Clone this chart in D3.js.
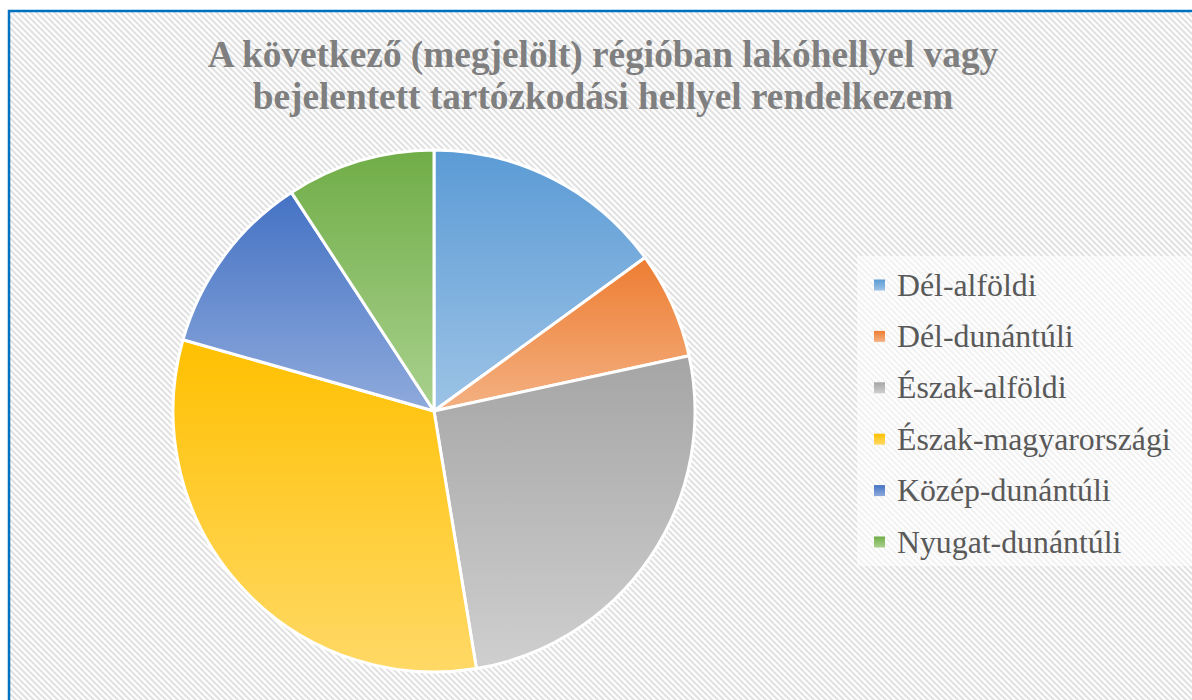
<!DOCTYPE html>
<html>
<head>
<meta charset="utf-8" />
<title>Régiók</title>
<script type="text/javascript" src="https://cdn.jsdelivr.net/npm/d3@7/dist/d3.min.js"></script>
<style>
body { margin:0; background:#fff; }
svg { display:block; }
text { font-family: "Liberation Serif", Tinos, "Times New Roman", "DejaVu Serif", serif; }
</style>
</head>
<body>
<div id="chart"></div>
<script>
// adatok
const regiok = ["Dél-alföldi","Dél-dunántúli","Észak-alföldi","Észak-magyarországi","Közép-dunántúli","Nyugat-dunántúli"];
const ertekek = [15, 6.6, 25.8, 32, 11.4, 9.2];
const cimSorok = ["A következő (megjelölt) régióban lakóhellyel vagy","bejelentett tartózkodási hellyel rendelkezem"];
const szinFelul = ["#5b9bd5","#ed7d31","#a5a5a5","#ffc000","#4472c4","#70ad47"];
const szinAlul  = ["#9dc3e6","#f4b183","#cfcfcf","#ffd966","#8faadc","#a9d18e"];

const width = 1192, height = 700;
const svg = d3.select("#chart").append("svg")
	.attr("width", width)
	.attr("height", height);

const defs = svg.append("defs");
const pat = defs.append("pattern")
	.attr("id","csikos")
	.attr("patternUnits","userSpaceOnUse")
	.attr("width",6).attr("height",6);
pat.append("rect").attr("width",6).attr("height",6).attr("fill","#fff");
pat.append("path")
	.attr("d","M-1,-1 L7,7 M-1,5 L1,7 M5,-1 L7,1")
	.attr("stroke","#e2e2e2")
	.attr("stroke-width",2.2);

regiok.forEach(function(r,i){
	const g = defs.append("linearGradient")
		.attr("id","grad"+i)
		.attr("x1",0).attr("y1",0).attr("x2",0).attr("y2",1);
	g.append("stop").attr("offset","0%").attr("stop-color",szinFelul[i]);
	g.append("stop").attr("offset","100%").attr("stop-color",szinAlul[i]);
});

// hatter + keret
svg.append("rect")
	.attr("x",9).attr("y",11)
	.attr("width",width+20).attr("height",height+20)
	.attr("fill","url(#csikos)")
	.attr("stroke","#0070c0")
	.attr("stroke-width",2.5);

// cim
svg.append("g").selectAll("text")
	.data(cimSorok)
	.join("text")
	.attr("x",603)
	.attr("y",(d,i)=>67 + i*42)
	.attr("text-anchor","middle")
	.attr("font-weight","bold")
	.attr("font-size",37.3)
	.attr("fill","#7f7f7f")
	.text(d=>d);

// kordiagram
const cx = 434, cy = 411, r = 261;
const pie = d3.pie().sort(null).value(d=>d);
const arc = d3.arc().innerRadius(0).outerRadius(r);

svg.append("g")
	.attr("transform","translate(" + cx + "," + cy + ")")
	.selectAll("path")
	.data(pie(ertekek))
	.join("path")
	.attr("d",arc)
	.attr("fill",(d,i)=>"url(#grad"+i+")")
	.attr("stroke","#fff")
	.attr("stroke-width",3)
	.attr("stroke-linejoin","round");

// jelmagyarazat
const legend = svg.append("g");
legend.append("rect")
	.attr("x",857).attr("y",256)
	.attr("width",340).attr("height",310)
	.attr("fill","#fff")
	.attr("fill-opacity",0.55);

const sor = legend.selectAll("g.sor")
	.data(regiok)
	.join("g")
	.attr("class","sor")
	.attr("transform",(d,i)=>"translate(874," + (285 + i*51.4) + ")");
sor.append("rect")
	.attr("x",0).attr("y",-5.5)
	.attr("width",11).attr("height",11)
	.attr("fill",(d,i)=>"url(#grad"+i+")");
sor.append("text")
	.attr("x",23)
	.attr("y",10.5)
	.attr("font-size",31.8)
	.attr("fill","#595959")
	.text(d=>d);
</script>
</body>
</html>
